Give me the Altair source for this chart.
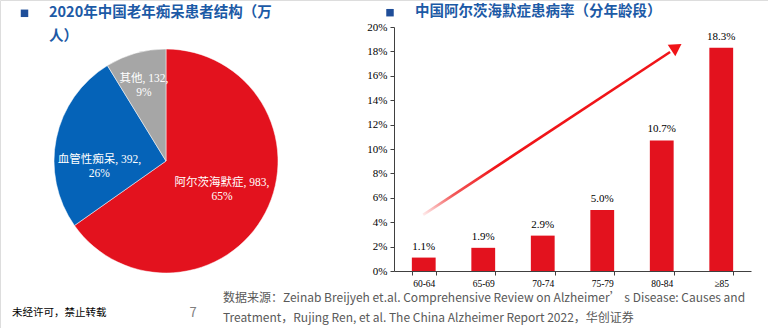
import altair as alt
import pandas as pd

# ---------------- data ----------------
pie_cats = ["阿尔茨海默症", "血管性痴呆", "其他"]
pie_vals = [983, 392, 132]
pie_pcts = ["65%", "26%", "9%"]
pie_colors = ["#E3121E", "#0563B8", "#A6A6A6"]

ages = ["60-64", "65-69", "70-74", "75-79", "80-84", "≥85"]
rates = [1.1, 1.9, 2.9, 5.0, 10.7, 18.3]
rate_labels = ["1.1%", "1.9%", "2.9%", "5.0%", "10.7%", "18.3%"]
y_ticks = [0, 2, 4, 6, 8, 10, 12, 14, 16, 18, 20]

# trend arrow (x in category units, y in %)
arrow_x = [0.49, 4.64]
arrow_y = [4.6, 17.95]
head_x = [4.72]
head_y = [18.25]

title_left_1 = "2020年中国老年痴呆患者结构（万"
title_left_2 = "人）"
title_right = "中国阿尔茨海默症患病率（分年龄段）"
footer_left = "未经许可，禁止转载"
page_no = "7"
source_1 = "数据来源：Zeinab Breijyeh et.al. Comprehensive Review on Alzheimer’ s Disease: Causes and"
source_2 = "Treatment，Rujing Ren, et al. The China Alzheimer Report 2022，华创证券"

SERIF = "Times New Roman, Liberation Serif, Noto Sans CJK SC"
SANS = "Noto Sans CJK SC"
RED = "#E3121E"
BLUE_T = "#1C5AA6"

# ---------------- pie ----------------
pie_df = pd.DataFrame({"cat": pie_cats, "val": pie_vals, "pct": pie_pcts,
                       "ord": list(range(len(pie_cats)))})
pie_df["label"] = pie_df["cat"] + ", " + pie_df["val"].astype(str) + ",\n" + pie_df["pct"]

CX, CY = 166, 161

arc = alt.Chart(pie_df).mark_arc(outerRadius=112, stroke="white", strokeWidth=0.5).encode(
    theta=alt.Theta("val:Q", stack=True),
    color=alt.Color("cat:N", scale=alt.Scale(domain=pie_cats, range=pie_colors), legend=None),
    order=alt.Order("ord:Q"),
    x=alt.value(CX), y=alt.value(CY),
)

lbl_base = (
    alt.Chart(pie_df)
    .transform_joinaggregate(total="sum(val)")
    .transform_window(cum="sum(val)", sort=[alt.SortField("ord")], frame=[None, 0])
    .transform_calculate(mid="2*PI*(datum.cum - datum.val/2)/datum.total")
)


def pie_label(cat, radius, dy):
    return lbl_base.transform_filter(alt.datum.cat == cat).mark_text(
        radius=radius, dy=dy, color="white", fontSize=11.5, font=SERIF,
        lineBreak="\n", lineHeight=14, align="center", baseline="middle",
    ).encode(
        theta=alt.Theta("mid:Q", scale=None),
        text="label:N",
        x=alt.value(CX), y=alt.value(CY),
    )


pie_layer = alt.layer(
    arc,
    pie_label(pie_cats[0], 63, -7),
    pie_label(pie_cats[1], 68, 13),
    pie_label(pie_cats[2], 81, -4),
)

# ---------------- bars ----------------
bar_df = pd.DataFrame({"age": ages, "rate": rates, "lbl": rate_labels})
X0, X1, Y0, Y1 = 394, 751, 271, 27

xenc = alt.X(
    "age:N", sort=ages,
    scale=alt.Scale(range=[X0, X1], paddingInner=0.6, paddingOuter=0.3),
    axis=alt.Axis(title=None, labelAngle=0, tickBand="extent", offset=-(328 - Y0),
                  labelFont=SERIF, labelFontSize=9.5, labelColor="black", labelPadding=3,
                  tickSize=4, tickColor="#404040", domainColor="#404040", grid=False),
)
yenc = alt.Y(
    "rate:Q",
    scale=alt.Scale(domain=[0, 20], range=[Y0, Y1], nice=False),
    axis=alt.Axis(title=None, values=y_ticks, labelExpr="datum.value + '%'", offset=-X0,
                  labelFont=SERIF, labelFontSize=11, labelColor="black", labelPadding=3,
                  tickSize=4, tickColor="#404040", domainColor="#404040", grid=False),
)

bars = alt.Chart(bar_df).mark_bar(color=RED).encode(x=xenc, y=yenc)
bar_text = alt.Chart(bar_df).mark_text(baseline="bottom", dy=-6, font=SERIF, fontSize=11,
                                       color="black").encode(x=xenc, y=yenc, text="lbl:N")
bar_layer = alt.layer(bars, bar_text)

# ---------------- arrow ----------------
arrow_df = pd.DataFrame({"ax": arrow_x, "ay": arrow_y})
head_df = pd.DataFrame({"ax": head_x, "ay": head_y})
ax_enc = alt.X("ax:Q", scale=alt.Scale(domain=[0, 6], range=[X0, X1], nice=False, zero=False), axis=None)
ay_enc = alt.Y("ay:Q", scale=alt.Scale(domain=[0, 20], range=[Y0, Y1], nice=False), axis=None)

grad = alt.LinearGradient(
    gradient="linear",
    stops=[alt.GradientStop(color="#FFECEC", offset=0),
           alt.GradientStop(color="#F25A5A", offset=0.12),
           alt.GradientStop(color="#F01418", offset=0.3),
           alt.GradientStop(color="#F01418", offset=1)],
    x1=0, x2=1, y1=1, y2=0,
)
arrow_line = alt.Chart(arrow_df).mark_line(color=grad, strokeWidth=2.6, strokeCap="butt").encode(
    x=ax_enc, y=ay_enc)
arrow_head = alt.Chart(head_df).mark_point(shape="triangle", angle=56.5, filled=True, size=190,
                                           color="#F01418", opacity=1).encode(x=ax_enc, y=ay_enc)
arrow_layer = alt.layer(arrow_line, arrow_head)

# ---------------- decorations ----------------
def txt(s, x, y, size, color, font=SANS, weight="normal", align="left"):
    return alt.Chart(pd.DataFrame({"t": [s]})).mark_text(
        fontSize=size, color=color, font=font, fontWeight=weight, align=align, baseline="middle"
    ).encode(text="t:N", x=alt.value(x), y=alt.value(y))


def square(x, y):
    return alt.Chart(pd.DataFrame({"t": [0]})).mark_square(size=56, color="#1F4E99", opacity=1).encode(
        x=alt.value(x), y=alt.value(y))


deco = alt.layer(
    square(24.5, 13.3),
    square(390, 12.7),
    txt(title_left_1, 49, 12.5, 14.5, BLUE_T, weight="bold"),
    txt(title_left_2, 49, 36.5, 14.5, BLUE_T, weight="bold"),
    txt(title_right, 415, 11.5, 14.5, BLUE_T, weight="bold"),
    txt(footer_left, 12, 313, 10.5, "black"),
    txt(page_no, 193, 313, 13, "#7F7F7F", align="center"),
    txt(source_1, 223, 298, 12, "#595959"),
    txt(source_2, 223, 318, 12, "#595959"),
)

chart = alt.layer(pie_layer, bar_layer, arrow_layer, deco).resolve_scale(
    x="independent", y="independent", theta="independent", color="independent"
).properties(
    width=768, height=328, autosize=alt.AutoSizeParams(type="none"), padding=0,
).configure_view(stroke=None).configure(background="white")

chart.save("out.html", embed_options={"renderer": "svg", "actions": False})
